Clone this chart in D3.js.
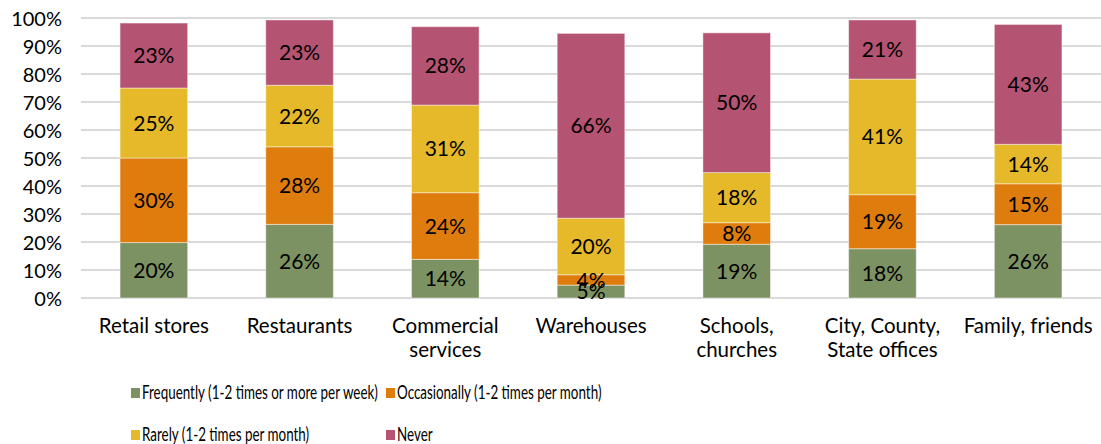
<!DOCTYPE html>
<html><head><meta charset="utf-8">
<script src="https://cdn.jsdelivr.net/npm/d3@7"></script>
<style>
html,body{margin:0;padding:0;background:#fff;}
svg text{font-family:"Lato","Noto Sans",sans-serif;fill:#000;}
</style></head>
<body><svg id="c" width="1101" height="444"></svg>
<script>
const categories = [["Retail stores"],["Restaurants"],["Commercial","services"],["Warehouses"],["Schools,","churches"],["City, County,","State offices"],["Family, friends"]];
const seriesNames = ["Frequently (1-2 times or more per week)","Occasionally (1-2 times per month)","Rarely (1-2 times per month)","Never"];
const frequently = [19.8, 26.3, 13.8, 4.6, 19.2, 17.6, 26.2];
const occasionally = [30.2, 27.7, 23.8, 3.7, 7.7, 19.3, 14.6];
const rarely = [25.0, 22.0, 31.3, 20.2, 17.9, 41.3, 14.1];
const never = [23.2, 23.3, 28.0, 66.0, 49.9, 21.1, 42.8];
const yTicks = [0,10,20,30,40,50,60,70,80,90,100];
const colors = ["#7d9262","#df7c0e","#e5b92a","#b55372"];

const svg = d3.select("#c");
const x = d3.scaleBand().domain(d3.range(categories.length)).range([81,1101]).paddingInner(0.536).paddingOuter(0.268);
const y = d3.scaleLinear().domain([0,100]).range([298,18]);

// grid
svg.append("g").selectAll("line").data(yTicks).join("line")
  .attr("x1",81).attr("x2",1101).attr("y1",d=>y(d)).attr("y2",d=>y(d))
  .attr("stroke","#d9d9d9").attr("stroke-width",2);

// y axis labels
const yAxis = d3.axisLeft(y).tickValues(yTicks).tickFormat(d=>d+"%").tickSize(0).tickPadding(0);
const ga = svg.append("g").attr("transform","translate(62,0)").call(yAxis);
ga.select(".domain").remove();
ga.selectAll("text").attr("font-size",20).attr("font-family",'"Lato","Noto Sans",sans-serif').attr("fill","#000").attr("dy","0.36em");

const rows = categories.map((c,i)=>({i, v:[frequently[i],occasionally[i],rarely[i],never[i]]}));
const keys = [0,1,2,3];
const stack = d3.stack().keys(keys).value((d,k)=>d.v[k]);
const stacked = stack(rows);

const gs = svg.append("g").selectAll("g").data(stacked).join("g").attr("fill",(d,i)=>colors[i]);
gs.selectAll("rect").data(d=>d).join("rect")
  .attr("x",d=>x(d.data.i)).attr("width",x.bandwidth())
  .attr("y",d=>y(d[1])).attr("height",d=>y(d[0])-y(d[1]))
  .attr("stroke","rgba(255,255,255,0.45)").attr("stroke-width",1);

// labels
const lg = svg.append("g");
stacked.forEach((s,k)=>{
  lg.selectAll(null).data(s).join("text")
    .attr("x",d=>x(d.data.i)+x.bandwidth()/2)
    .attr("y",d=>(y(d[0])+y(d[1]))/2)
    .attr("dy","0.36em").attr("text-anchor","middle").attr("font-size",21)
    .text(d=>Math.round(d.data.v[k])+"%");
});

// x labels
const xl = svg.append("g");
categories.forEach((lines,i)=>{
  const t = xl.append("text").attr("x",x(i)+x.bandwidth()/2).attr("y",333).attr("text-anchor","middle").attr("font-size",20.5);
  lines.forEach((ln,j)=>t.append("tspan").attr("x",x(i)+x.bandwidth()/2).attr("dy",j?23.5:0).text(ln));
});

// legend (condensed face emulated by horizontal squeeze)
const legPos = [[131,392],[386,392],[131,434],[386,434]];
const leg = svg.append("g");
let squeeze = null;
seriesNames.forEach((n,i)=>{
  const [lx,ly] = legPos[i];
  leg.append("rect").attr("x",lx).attr("y",ly-4).attr("width",9).attr("height",10).attr("fill",colors[i]);
  const g = leg.append("g");
  const t = g.append("text").attr("x",0).attr("y",0).attr("dy","0.35em").attr("font-size",19).text(n);
  const w = t.node().getComputedTextLength();
  if (squeeze === null) squeeze = Math.min(1, 236 / w);
  g.attr("transform",`translate(${lx+11},${ly}) scale(${squeeze},1)`);
});
</script></body></html>
